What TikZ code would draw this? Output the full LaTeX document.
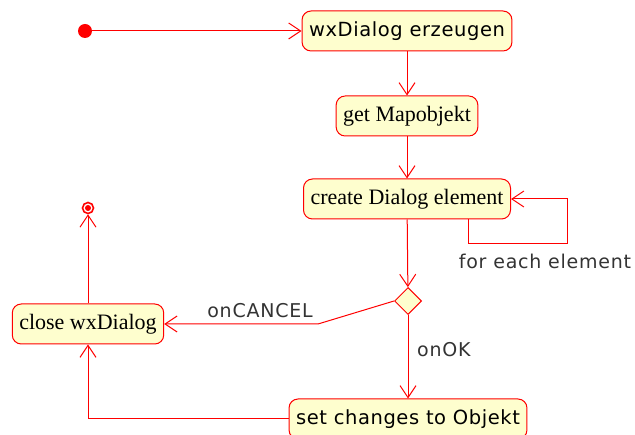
\documentclass[tikz,border=0pt]{standalone}
\usepackage{fontspec}
\usetikzlibrary{arrows.meta,positioning,shapes.geometric}
\newfontfamily\boxsans{DejaVu Sans}[LetterSpace=3]
\newfontfamily\boxserif{Liberation Serif}
\newfontfamily\lblsans{DejaVu Sans}[LetterSpace=4]
\definecolor{umlred}{HTML}{FF0000}
\definecolor{umlfill}{HTML}{FEFECE}
\definecolor{lbl}{HTML}{333333}
\tikzset{
  act/.style={draw=umlred,line width=1pt,rounded corners=9pt,fill=umlfill,minimum height=40pt,inner xsep=7pt,text=black},
  sact/.style={act,font=\boxsans\fontsize{19.5}{21}\selectfont},
  ract/.style={act,font=\boxserif\fontsize{22}{24}\selectfont},
  dec/.style={diamond,draw=umlred,line width=1pt,fill=umlfill,minimum size=27pt,inner sep=0pt},
  guard/.style={font=\lblsans\fontsize{19}{21}\selectfont,text=lbl,inner sep=0pt},
  ar/.style={-{Straight Barb[length=12pt,width=16pt]},draw=umlred,line width=1pt},
}
\begin{document}
\begin{tikzpicture}[x=1pt,y=-1pt]
  \useasboundingbox (0,0) rectangle (635,435);
  \fill[umlred] (85,31) circle (7pt) coordinate (start);
  \node[sact] (erz) at (407,31) {wxDialog erzeugen};
  \node[ract,below=44pt of erz] (get) {get Mapobjekt};
  \node[ract,below=42pt of get] (create) {create Dialog element};
  \node[dec] (choice) at (408,301) {};
  \node[ract] (close) at (88,324) {close wxDialog};
  \node[sact] (set) at (408,419) {set changes to Objekt};
  \node[circle,draw=umlred,line width=1.6pt,fill=white,minimum size=11pt,inner sep=0pt] (stop) at (88,208) {};
  \fill[umlred] (stop) circle (3pt);
  % Schleife
  \coordinate (loopa) at (468,244);
  \coordinate (loopb) at (567,244);
  \draw[ar] (start) -- (erz);
  \draw[ar] (erz) -- (get);
  \draw[ar] (get) -- (create);
  \draw[ar] (create.south -| loopa) -- (loopa) -- (loopb) |- (create.east);
  \node[guard] (each) at (545,261) {for each element};
  \draw[ar] (create) -- (choice);
  % Abbruch
  \coordinate (bend) at (318,324);
  \draw[ar] (choice.west) -- (bend) -- (bend -| close.east);
  \node[guard] (cancel) at (260,311) {onCANCEL};
  \draw[ar] (choice.south) -- (set.north);
  \node[guard,anchor=west] (ok) at (417,350) {onOK};
  \draw[ar] (set.west) -| (close.south);
  \draw[ar] (close.north) -- (stop);
\end{tikzpicture}
\end{document}
